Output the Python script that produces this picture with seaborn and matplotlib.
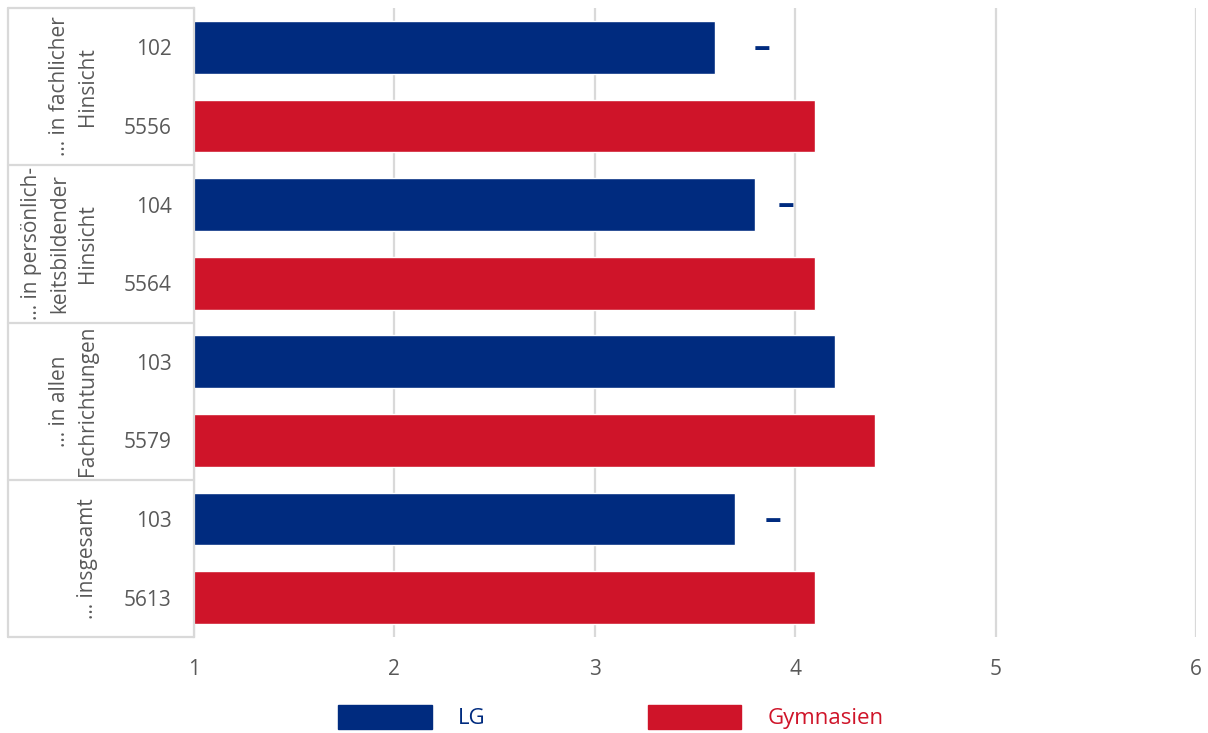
import pandas as pd
import matplotlib.pyplot as plt
import seaborn as sns

# Daten
gruppen = ['… in fachlicher\nHinsicht',
           '… in persönlich-\nkeitsbildender\nHinsicht',
           '… in allen\nFachrichtungen',
           '… insgesamt']
schulformen = ['LG', 'Gymnasien']
n_werte = ['102', '5556', '104', '5564', '103', '5579', '103', '5613']
lg_werte = [3.6, 3.8, 4.2, 3.7]
gym_werte = [4.1, 4.1, 4.4, 4.1]
signifikanz = ['–', '–', '', '–']

farben = {'LG': '#002B7F', 'Gymnasien': '#CF1429'}
grau_text = '#595959'
grau_linie = '#D9D9D9'

zeilen, werte, formen = [], [], []
for i in range(len(gruppen)):
    zeilen += [str(2 * i), str(2 * i + 1)]
    werte += [lg_werte[i], gym_werte[i]]
    formen += schulformen
df = pd.DataFrame({'Zeile': zeilen, 'Wert': werte, 'Schulform': formen})

sns.set_style('white')
plt.rcParams['font.family'] = ['Open Sans', 'DejaVu Sans']

fig = plt.figure(figsize=(12.08, 7.33), dpi=100)
ax = fig.add_axes([194 / 1208, 1 - 637 / 733, 1002 / 1208, 629 / 733])

sns.barplot(data=df, x='Wert', y='Zeile', hue='Schulform', dodge=False,
            palette=farben, width=0.67, order=zeilen[:8], ax=ax,
            saturation=1, legend=False)

ax.set_xlim(1, 6)
ax.set_ylim(7.5, -0.5)
ax.set_xticks([1, 2, 3, 4, 5, 6])
ax.set_xticklabels(['1', '2', '3', '4', '5', '6'])
ax.set_yticks(range(8))
ax.set_yticklabels(n_werte)
ax.tick_params(axis='both', length=0, labelsize=15, labelcolor=grau_text)
ax.tick_params(axis='y', pad=16)
ax.tick_params(axis='x', pad=16)
ax.set_xlabel('')
ax.set_ylabel('')
ax.grid(axis='x', color=grau_linie, linewidth=1.6)
ax.set_axisbelow(True)
for s in ['top', 'right', 'bottom']:
    ax.spines[s].set_visible(False)
ax.spines['left'].set_color(grau_linie)
ax.spines['left'].set_linewidth(1.6)

# Signifikanz-Markierungen
versatz = [34, 22, 27, 27]
for i, zeichen in enumerate(signifikanz):
    if zeichen:
        ax.annotate(zeichen, xy=(lg_werte[i], 2 * i), xytext=(versatz[i], -1),
                    textcoords='offset points', ha='center', va='center',
                    color=farben['LG'], fontsize=24, fontweight='bold')

# Kategorie-Tabelle links
tr = ax.get_yaxis_transform()
links = (8 - 194) / 1002
for yb in [-0.5, 1.5, 3.5, 5.5, 7.5]:
    ax.plot([links, 0], [yb, yb], transform=tr, color=grau_linie,
            linewidth=1.6, clip_on=False)
ax.plot([links, links], [-0.5, 7.5], transform=tr, color=grau_linie,
        linewidth=1.6, clip_on=False)
for i, g in enumerate(gruppen):
    ax.text((98 - 194) / 1002, 2 * i + 0.5, g, transform=tr, rotation=90,
            ha='right', va='center', multialignment='center',
            fontsize=15, color=grau_text, linespacing=1.45)

# Legende
handles = [plt.Rectangle((0, 0), 1, 1, color=farben[s]) for s in schulformen]
leg = fig.legend(handles, schulformen, loc='center', bbox_to_anchor=(0.506, 0.022),
                 ncol=2, frameon=False, fontsize=16, handlelength=4.2,
                 handleheight=1.3, handletextpad=1.2, columnspacing=7.3)
for t, s in zip(leg.get_texts(), schulformen):
    t.set_color(farben[s])

fig.savefig('out.png', dpi=100, facecolor='white')
